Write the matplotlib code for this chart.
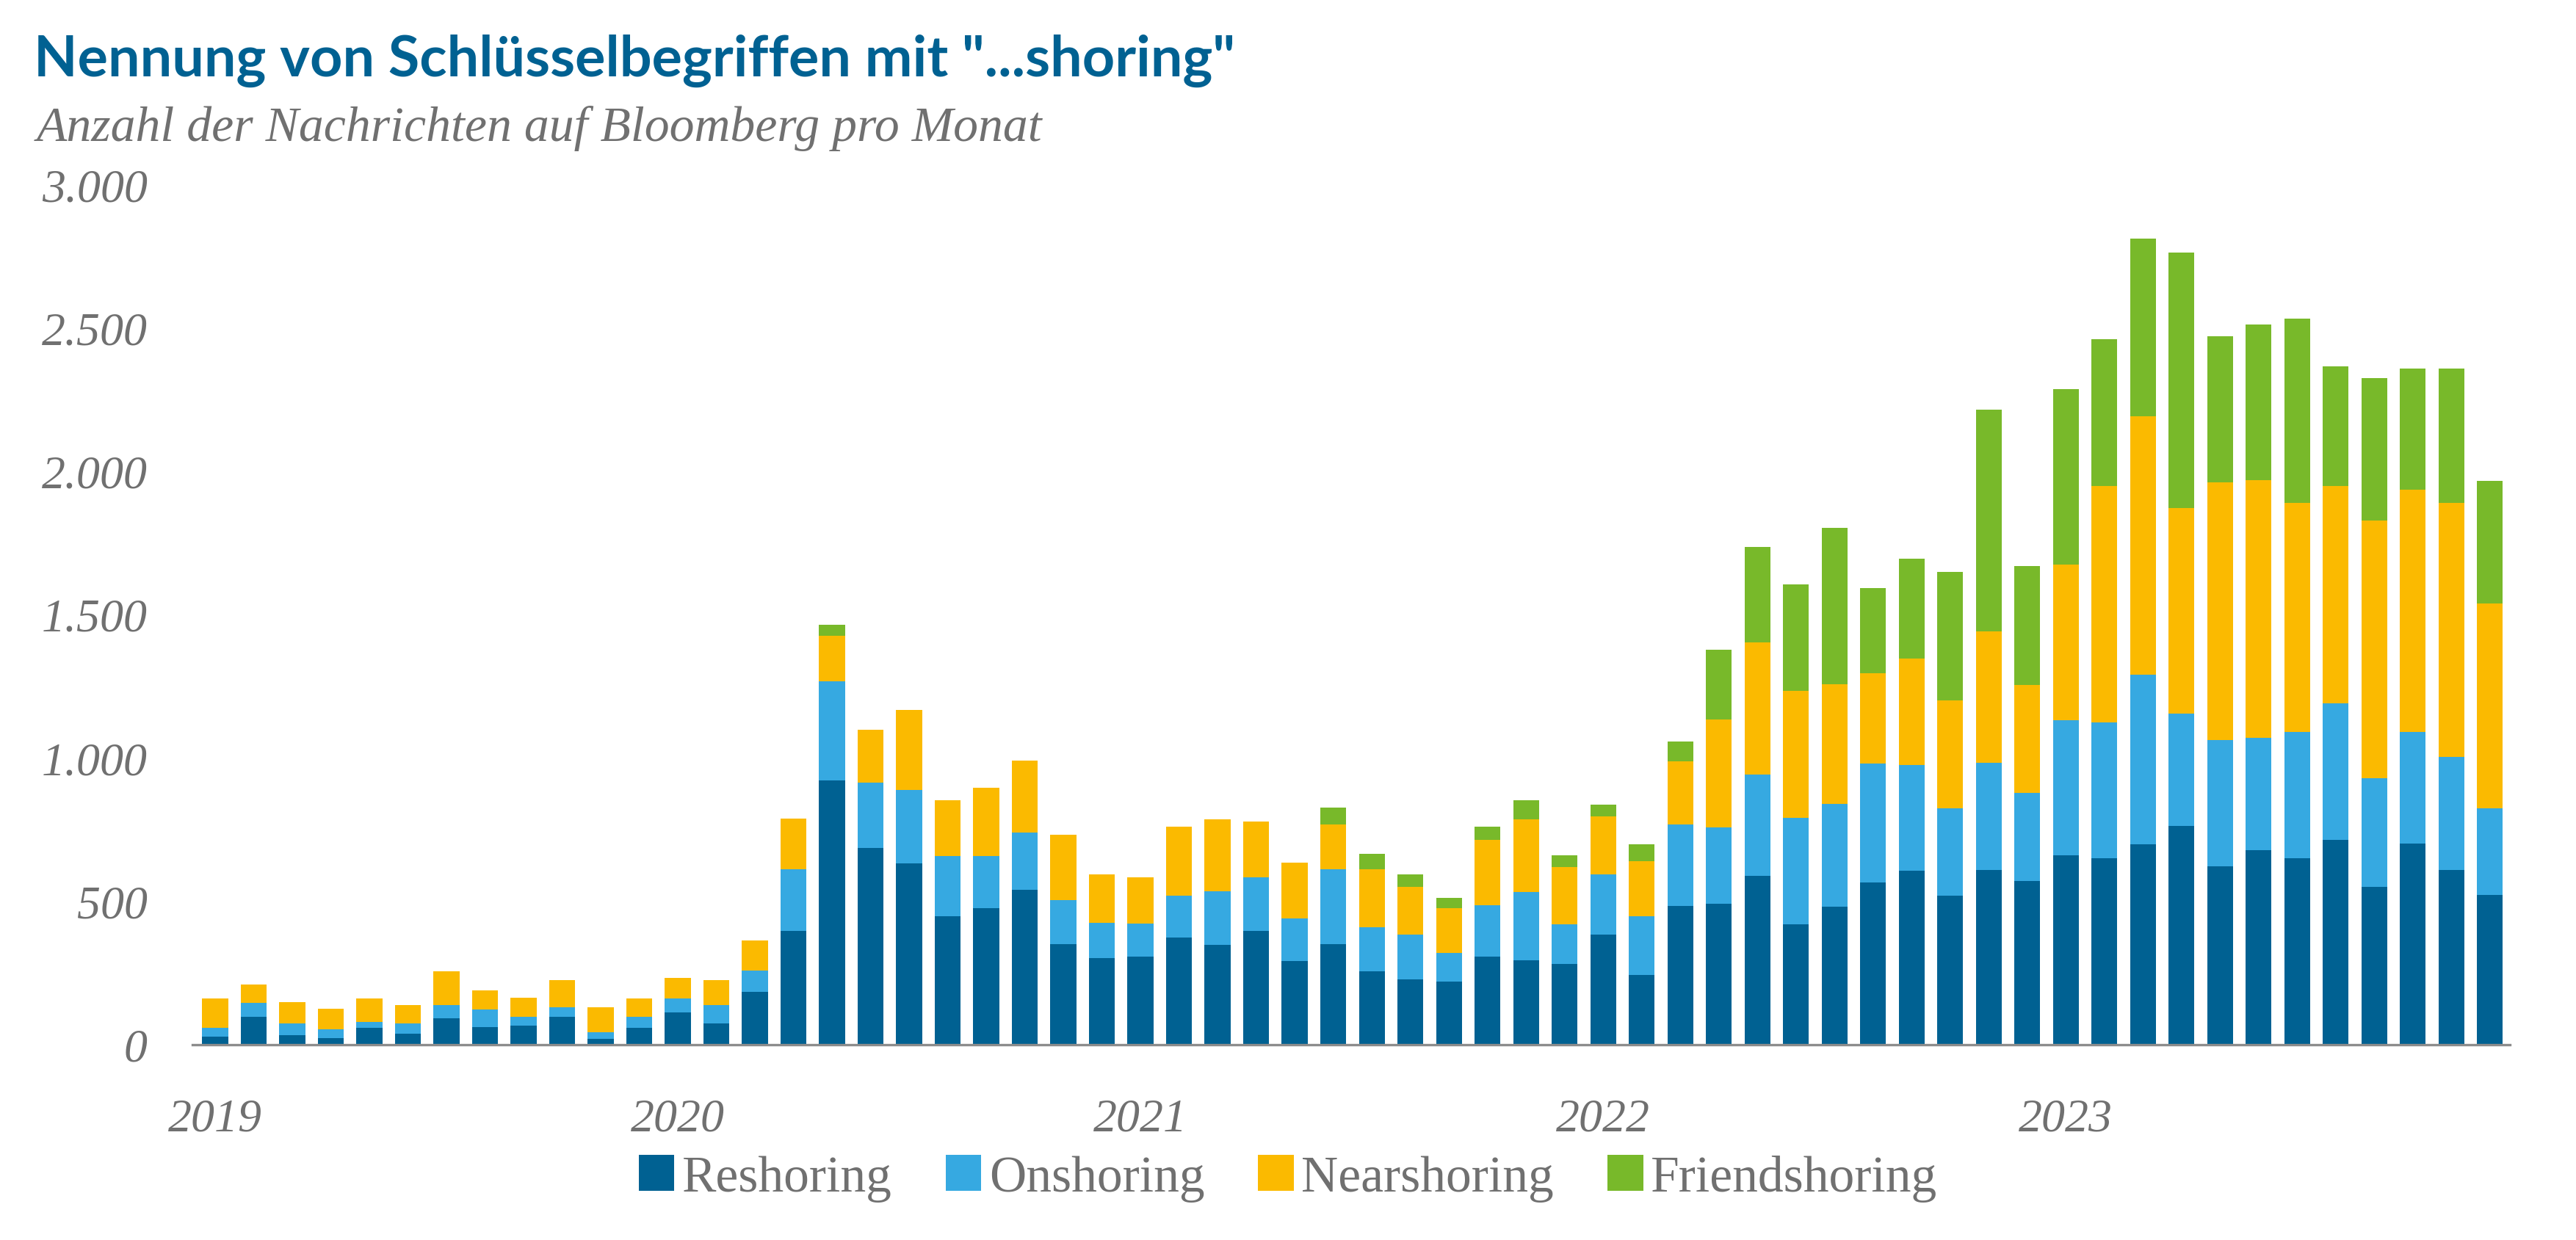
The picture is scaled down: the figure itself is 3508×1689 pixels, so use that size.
import matplotlib
matplotlib.use("Agg")
import matplotlib.pyplot as plt
import numpy as np

# ---------------- data ----------------
years = ["2019", "2020", "2021", "2022", "2023"]
months = [f"{y}-{m:02d}" for y in years for m in range(1, 13)]

reshoring = [28, 98, 34, 24, 60, 39, 93, 62, 67, 96, 21, 60,
             113, 73, 185, 398, 921, 687, 633, 447, 475, 539, 351, 303,
             308, 375, 347, 398, 293, 351, 255, 229, 219, 308, 295, 281,
             383, 242, 485, 492, 590, 419, 480, 566, 606, 519, 610, 570,
             661, 651, 700, 764, 623, 678, 651, 713, 551, 702, 610, 521]
onshoring = [32, 49, 39, 31, 20, 34, 44, 61, 29, 35, 23, 38,
             47, 64, 74, 214, 347, 226, 256, 210, 182, 202, 154, 123,
             115, 144, 187, 186, 146, 262, 154, 154, 101, 179, 237, 140,
             210, 207, 283, 265, 353, 371, 359, 414, 368, 304, 372, 308,
             470, 474, 590, 390, 439, 392, 439, 477, 378, 388, 394, 302]
nearshoring = [100, 63, 75, 70, 81, 64, 119, 66, 68, 94, 87, 63,
               74, 89, 105, 176, 157, 184, 277, 195, 240, 250, 228, 167,
               160, 240, 251, 193, 195, 156, 204, 168, 155, 226, 253, 199,
               204, 190, 220, 376, 460, 445, 417, 314, 373, 377, 459, 376,
               543, 823, 901, 716, 900, 898, 799, 758, 898, 845, 885, 716]
friendshoring = [0, 0, 0, 0, 0, 0, 0, 0, 0, 0, 0, 0,
                 0, 0, 0, 0, 38, 0, 0, 0, 0, 0, 0, 0,
                 0, 0, 0, 0, 0, 59, 52, 42, 38, 46, 67, 40,
                 39, 59, 68, 243, 332, 370, 545, 298, 348, 448, 772, 414,
                 613, 512, 620, 892, 508, 543, 643, 416, 496, 423, 469, 427]

series_names = ["Reshoring", "Onshoring", "Nearshoring", "Friendshoring"]
series_colors = ["#006192", "#36A9E1", "#FBBA00", "#78B92A"]
y_ticks = [0, 500, 1000, 1500, 2000, 2500, 3000]
y_ticklabels = ["0", "500", "1.000", "1.500", "2.000", "2.500", "3.000"]

title = 'Nennung von Schlüsselbegriffen mit "...shoring"'
subtitle = "Anzahl der Nachrichten auf Bloomberg pro Monat"

# ---------------- figure ----------------
W, H = 3508, 1690
DPI = 200
fig = plt.figure(figsize=(W / DPI, H / DPI), dpi=DPI)
fig.patch.set_facecolor("white")

ax_left, ax_right = 262, 3418
ax_bottom_px, ax_top_px = 1424, 252
ax = fig.add_axes([ax_left / W, 1 - ax_bottom_px / H,
                   (ax_right - ax_left) / W, (ax_bottom_px - ax_top_px) / H])

x = np.arange(len(months))
bottom = np.zeros(len(months))
all_series = [reshoring, onshoring, nearshoring, friendshoring]
handles = []
for vals, name, col in zip(all_series, series_names, series_colors):
    v = np.array(vals, dtype=float)
    b = ax.bar(x, v, bottom=bottom, width=0.67, color=col, label=name,
               linewidth=0, zorder=2)
    handles.append(b)
    bottom += v

ax.set_ylim(0, 3000)
ax.set_xlim(-0.59, 59.52)

gray = "#707070"
serif = ["Liberation Serif", "DejaVu Serif"]

ax.set_yticks(y_ticks)
ax.set_yticklabels(y_ticklabels, family=serif, style="italic",
                   fontsize=23, color=gray)
ax.tick_params(axis="y", length=0, pad=22)

jan_idx = [months.index(f"{y}-01") for y in years]
ax.set_xticks(jan_idx)
ax.set_xticklabels(years, family=serif, style="italic", fontsize=23,
                   color=gray)
ax.tick_params(axis="x", length=0, pad=26)

for s in ["top", "right", "left"]:
    ax.spines[s].set_visible(False)
ax.spines["bottom"].set_color("#8C8C8C")
ax.spines["bottom"].set_linewidth(1.2)
ax.spines["bottom"].set_zorder(3)

leg = fig.legend(handles=handles, labels=series_names, loc="center",
                 bbox_to_anchor=(0.5, 1 - 1606 / H), ncol=4, frameon=False,
                 prop={"family": serif, "size": 25},
                 handlelength=0.7, handleheight=0.7, handletextpad=0.15,
                 columnspacing=1.05, labelcolor=gray)

t1 = fig.text(46 / W, 1 - 104 / H, title, family=["Lato", "DejaVu Sans"],
              fontweight="bold", fontsize=30, color="#006192",
              va="baseline", ha="left")
t2 = fig.text(50 / W, 1 - 192 / H, subtitle, family=serif, style="italic",
              fontsize=26, color=gray, va="baseline", ha="left")

# fit title/subtitle widths to reference widths
fig.canvas.draw()
r = fig.canvas.get_renderer()
for t, target in [(t1, 1636), (t2, 1370)]:
    w = t.get_window_extent(r).width
    t.set_fontsize(t.get_fontsize() * target / w)

fig.savefig("out.png", dpi=DPI, facecolor="white")
